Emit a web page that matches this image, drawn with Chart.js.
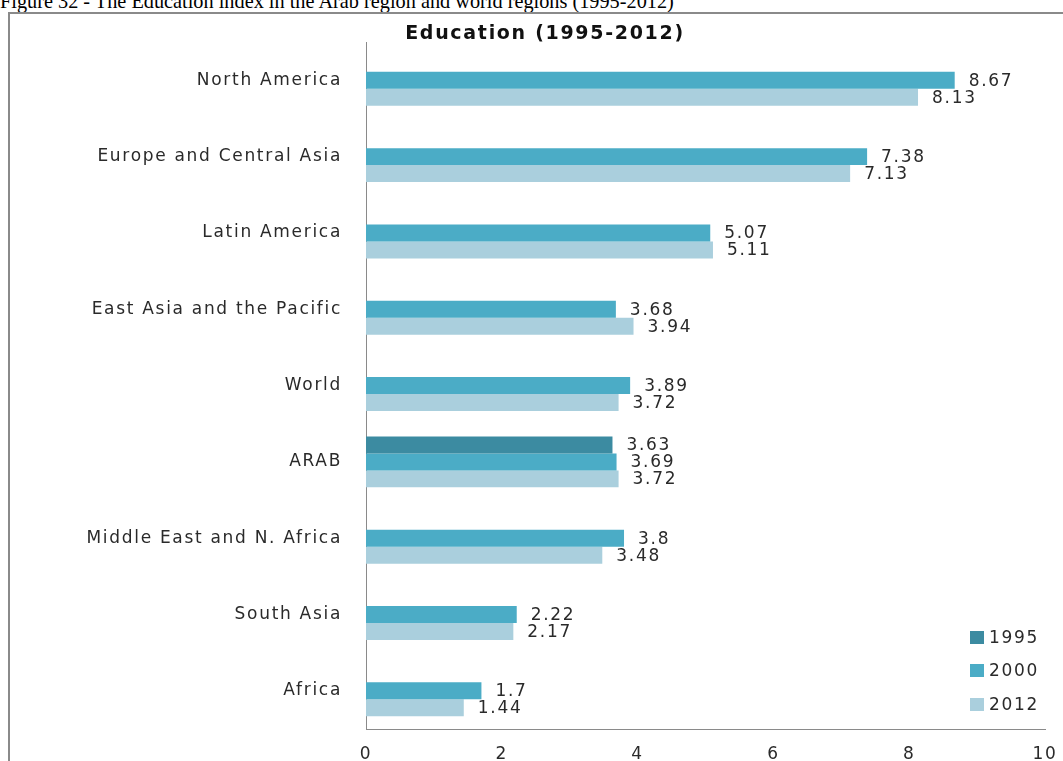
<!DOCTYPE html>
<html>
<head>
<meta charset="utf-8">
<script src="https://cdn.jsdelivr.net/npm/chart.js@4.4.1/dist/chart.umd.min.js"></script>
<style>
  html, body { margin: 0; padding: 0; background: #fff; overflow: hidden; width: 1063px; height: 761px; }
  #caption { position: absolute; left: 0; top: -9px; font: 20.3px "Liberation Serif", "Times New Roman", serif; line-height: 20px; color: #000; white-space: nowrap; }
  #frame { position: absolute; left: 8px; top: 12px; width: 1100px; height: 800px; border: 2px solid #8a8a8a; box-sizing: border-box; }
  #chart { position: absolute; left: 10px; top: 13px; }
</style>
</head>
<body>
<div id="caption">Figure 32 - The Education index in the Arab region and world regions (1995-2012)</div>
<div id="frame"></div>
<canvas id="chart" width="1070" height="748"></canvas>
<script>
const chartTitle = 'Education (1995-2012)';
const categories = [
  'North America',
  'Europe and Central Asia',
  'Latin America',
  'East Asia and the Pacific',
  'World',
  'ARAB',
  'Middle East and N. Africa',
  'South Asia',
  'Africa'
];
const seriesNames = ['1995', '2000', '2012'];
const values1995 = [null, null, null, null, null, 3.63, null, null, null];
const values2000 = [8.67, 7.38, 5.07, 3.68, 3.89, 3.69, 3.8, 2.22, 1.7];
const values2012 = [8.13, 7.13, 5.11, 3.94, 3.72, 3.72, 3.48, 2.17, 1.44];
const xTicks = [0, 2, 4, 6, 8, 10];

const colors = ['#3C8BA1', '#4BACC6', '#AACFDD'];
const FONT = '"DejaVu Sans", Verdana, sans-serif';
const TEXT = '#2a2a2a';
const SPACING = '1.7px';

const wideText = {
  id: 'wideText',
  beforeLayout(chart) { chart.ctx.letterSpacing = SPACING; },
  beforeDraw(chart) { chart.ctx.letterSpacing = SPACING; }
};

const valueLabels = {
  id: 'valueLabels',
  afterDatasetsDraw(chart) {
    const ctx = chart.ctx;
    ctx.save();
    ctx.letterSpacing = SPACING;
    ctx.font = '17px ' + FONT;
    ctx.fillStyle = TEXT;
    ctx.textAlign = 'left';
    ctx.textBaseline = 'middle';
    chart.data.datasets.forEach((ds, di) => {
      const meta = chart.getDatasetMeta(di);
      meta.data.forEach((el, i) => {
        const v = ds.data[i];
        if (v === null || v === undefined) return;
        ctx.fillText(String(v), el.x + 14, el.y + 1);
      });
    });
    ctx.restore();
  }
};

const cornerLegend = {
  id: 'cornerLegend',
  afterDraw(chart) {
    const ctx = chart.ctx;
    const a = chart.chartArea;
    ctx.save();
    ctx.letterSpacing = SPACING;
    ctx.font = '17px ' + FONT;
    ctx.textAlign = 'left';
    ctx.textBaseline = 'middle';
    const offsets = [91, 58, 24];
    chart.data.datasets.forEach((ds, i) => {
      const y = a.bottom - offsets[i];
      const x = a.right - 75;
      ctx.fillStyle = ds.backgroundColor;
      ctx.fillRect(x, y - 7, 14, 13);
      ctx.fillStyle = TEXT;
      ctx.fillText(ds.label, x + 19, y + 1);
    });
    ctx.restore();
  }
};

new Chart(document.getElementById('chart'), {
  type: 'bar',
  data: {
    labels: categories,
    datasets: [
      { label: seriesNames[0], data: values1995, backgroundColor: colors[0] },
      { label: seriesNames[1], data: values2000, backgroundColor: colors[1] },
      { label: seriesNames[2], data: values2012, backgroundColor: colors[2] }
    ]
  },
  options: {
    indexAxis: 'y',
    responsive: false,
    animation: false,
    devicePixelRatio: 1,
    layout: { padding: { left: 35, right: 35, top: 0, bottom: 0 } },
    datasets: { bar: { categoryPercentage: 0.667, barPercentage: 1.0, borderWidth: 0 } },
    plugins: {
      legend: { display: false },
      tooltip: { enabled: false },
      title: {
        display: true,
        text: chartTitle,
        color: '#111',
        font: { family: FONT, size: 19, weight: 'bold', lineHeight: 0.85 },
        padding: { top: 13, bottom: 0 }
      }
    },
    scales: {
      x: {
        min: 0,
        max: 10,
        afterBuildTicks(scale) { scale.ticks = xTicks.map(v => ({ value: v })); },
        ticks: { color: TEXT, font: { family: FONT, size: 17 }, padding: 15, maxRotation: 0 },
        grid: { display: false, drawTicks: false },
        border: { display: true, color: '#8a8a8a', width: 1 },
        afterFit(scale) { scale.height = 32; }
      },
      y: {
        ticks: { color: TEXT, font: { family: FONT, size: 17 }, padding: 24 },
        grid: { display: false, drawTicks: false },
        border: { display: true, color: '#8a8a8a', width: 1 },
        afterFit(scale) { scale.width = 321; scale.paddingTop = 0; scale.paddingBottom = 0; }
      }
    }
  },
  plugins: [wideText, valueLabels, cornerLegend]
});
</script>
</body>
</html>
